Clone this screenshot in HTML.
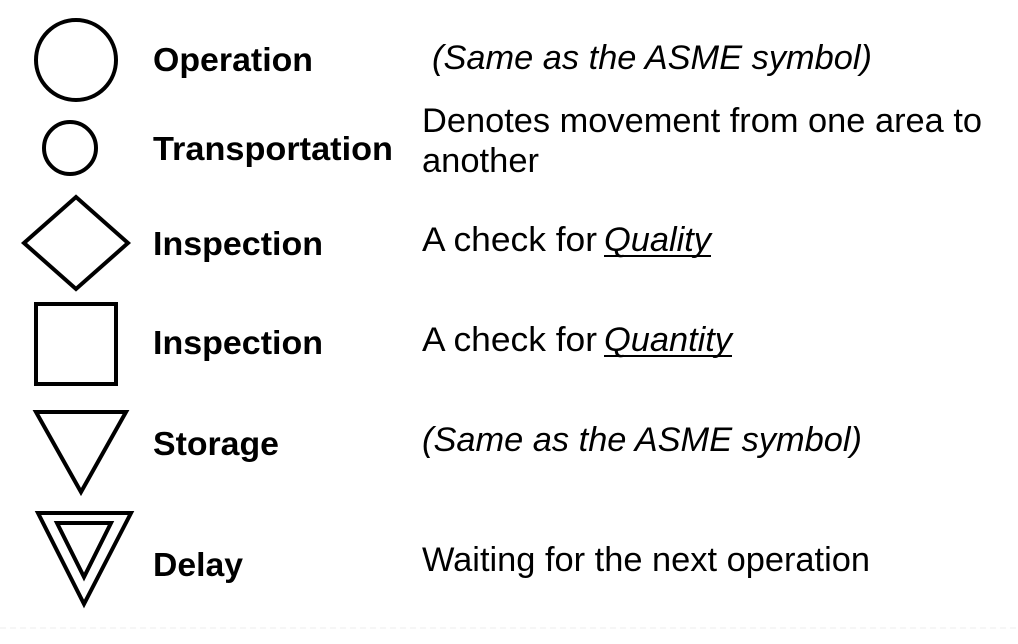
<!DOCTYPE html>
<html><head><meta charset="utf-8"><style>
html,body{margin:0;padding:0;background:#fff;width:1018px;height:644px;overflow:hidden}
svg{display:block}
.b{font-family:"Liberation Sans",sans-serif;font-weight:bold;font-size:33px;fill:#000}
.n{font-family:"Liberation Sans",sans-serif;font-size:34px;fill:#000}
.i{font-style:italic}
</style></head><body>
<svg width="1018" height="644" viewBox="0 0 1018 644">
<g stroke="#eee" stroke-width="1" stroke-dasharray="6,4">
<line x1="0" y1="628" x2="1018" y2="628"/>
</g>
<g fill="none" stroke="#000" stroke-width="4">
<circle cx="76" cy="60" r="40"/>
<circle cx="70" cy="148" r="26"/>
<polygon points="24,243 76,197 128,243 76,289"/>
<rect x="36" y="304" width="80" height="80"/>
<polygon points="36,412 126,412 81,492"/>
<polygon points="38,513 131,513 84,604"/>
<polygon points="57,523 111,523 84,577"/>
</g>
<text class="b" x="153" y="71" textLength="160" lengthAdjust="spacingAndGlyphs">Operation</text>
<text class="b" x="153" y="160" textLength="240" lengthAdjust="spacingAndGlyphs">Transportation</text>
<text class="b" x="153" y="255" textLength="170" lengthAdjust="spacingAndGlyphs">Inspection</text>
<text class="b" x="153" y="354" textLength="170" lengthAdjust="spacingAndGlyphs">Inspection</text>
<text class="b" x="153" y="455" textLength="126" lengthAdjust="spacingAndGlyphs">Storage</text>
<text class="b" x="153" y="576" textLength="90" lengthAdjust="spacingAndGlyphs">Delay</text>
<text class="n i" x="432" y="69" textLength="440" lengthAdjust="spacingAndGlyphs">(Same as the ASME symbol)</text>
<text class="n" x="422" y="132" textLength="560" lengthAdjust="spacingAndGlyphs">Denotes movement from one area to</text>
<text class="n" x="422" y="172" textLength="117" lengthAdjust="spacingAndGlyphs">another</text>
<text class="n" x="422" y="251" textLength="175" lengthAdjust="spacingAndGlyphs">A check for</text>
<text class="n i" x="604" y="251" textLength="107" lengthAdjust="spacingAndGlyphs">Quality</text>
<line x1="604" y1="256" x2="711" y2="256" stroke="#000" stroke-width="2"/>
<text class="n" x="422" y="351" textLength="175" lengthAdjust="spacingAndGlyphs">A check for</text>
<text class="n i" x="604" y="351" textLength="128" lengthAdjust="spacingAndGlyphs">Quantity</text>
<line x1="604" y1="356" x2="732" y2="356" stroke="#000" stroke-width="2"/>
<text class="n i" x="422" y="451" textLength="440" lengthAdjust="spacingAndGlyphs">(Same as the ASME symbol)</text>
<text class="n" x="422" y="571" textLength="448" lengthAdjust="spacingAndGlyphs">Waiting for the next operation</text>
</svg>
</body></html>
